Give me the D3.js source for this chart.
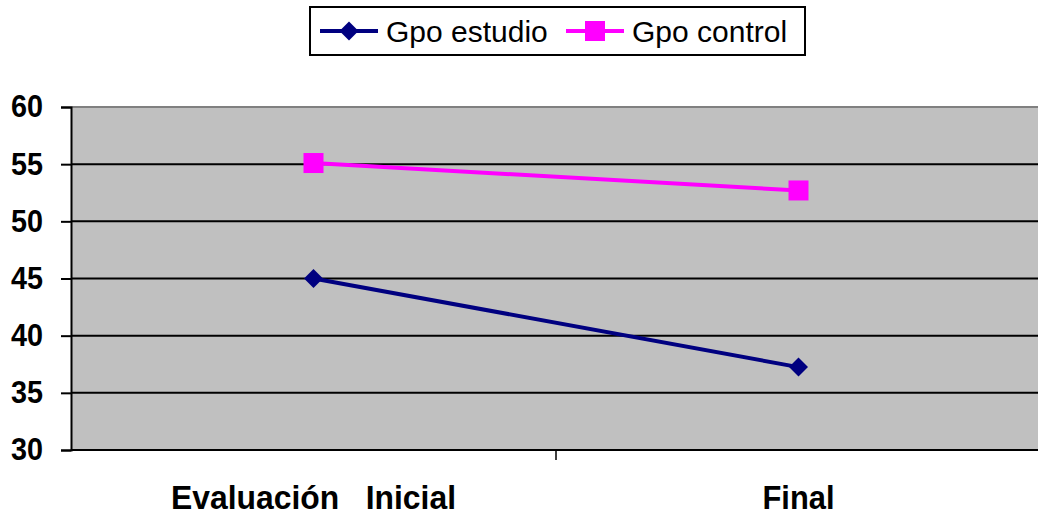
<!DOCTYPE html>
<html>
<head>
<meta charset="utf-8">
<script src="https://cdn.jsdelivr.net/npm/d3@7"></script>
<style>
  html, body { margin: 0; padding: 0; background: #fff; }
  svg { display: block; font-family: "Liberation Sans", Arial, sans-serif; }
</style>
</head>
<body>
<svg id="chart" width="1038" height="516"></svg>
<script>
// Categories, series and tick values
const categories = ["Evaluación   Inicial", "Final"];
const seriesNames = ["Gpo estudio", "Gpo control"];
const estudioValues = [45.0, 37.25];
const controlValues = [55.1, 52.7];
const yTicks = [30, 35, 40, 45, 50, 55, 60];
const seriesColors = ["#000080", "#ff00ff"];

const svg = d3.select("#chart");
const plot = { left: 71, right: 1041, top: 107, bottom: 450 };

const x = d3.scaleBand().domain(categories).range([plot.left, plot.right]);
const y = d3.scaleLinear().domain([30, 60]).range([plot.bottom, plot.top]);

// Plot area background
svg.append("rect")
  .attr("x", plot.left).attr("y", plot.top)
  .attr("width", plot.right - plot.left).attr("height", plot.bottom - plot.top)
  .attr("fill", "#c0c0c0");

// Horizontal gridlines
svg.append("g").selectAll("line")
  .data(yTicks.filter(d => d > 30 && d < 60))
  .join("line")
  .attr("x1", plot.left).attr("x2", plot.right)
  .attr("y1", d => y(d)).attr("y2", d => y(d))
  .attr("stroke", "#000").attr("stroke-width", 2);

// Top edge of plot area
svg.append("line")
  .attr("x1", plot.left).attr("x2", plot.right)
  .attr("y1", y(60)).attr("y2", y(60))
  .attr("stroke", "#808080").attr("stroke-width", 2);

// Y axis
const yAxis = d3.axisLeft(y).tickValues(yTicks).tickSize(10).tickPadding(18);
const gy = svg.append("g").attr("transform", `translate(${plot.left},0)`).call(yAxis);
gy.select(".domain").attr("stroke", "#000").attr("stroke-width", 2);
gy.selectAll(".tick line").attr("stroke", "#000").attr("stroke-width", 2);
gy.selectAll(".tick text")
  .attr("fill", "#000")
  .attr("textLength", 32)
  .attr("lengthAdjust", "spacingAndGlyphs")
  .style("font-size", "31px").style("font-weight", "bold")
  .style("font-family", "'Liberation Sans', Arial, sans-serif");

// X axis line with a divider tick between categories
svg.append("line")
  .attr("x1", plot.left).attr("x2", plot.right)
  .attr("y1", plot.bottom).attr("y2", plot.bottom)
  .attr("stroke", "#000").attr("stroke-width", 2);
svg.append("line")
  .attr("x1", x(categories[1])).attr("x2", x(categories[1]))
  .attr("y1", plot.bottom).attr("y2", plot.bottom + 10)
  .attr("stroke", "#000").attr("stroke-width", 1.5);

// Category labels (condensed bold)
const labelWidths = [285, 72];
svg.append("g").selectAll("text")
  .data(categories)
  .join("text")
  .attr("x", d => x(d) + x.bandwidth() / 2)
  .attr("y", 509)
  .attr("text-anchor", "middle")
  .attr("textLength", (d, i) => labelWidths[i])
  .attr("lengthAdjust", "spacingAndGlyphs")
  .style("font-size", "33px").style("font-weight", "bold")
  .style("white-space", "pre")
  .attr("fill", "#000")
  .text(d => d);

const cx = d => x(d) + x.bandwidth() / 2;
const line = d3.line().x(d => cx(d.cat)).y(d => y(d.v));
const allSeries = [estudioValues, controlValues].map((vals, i) => ({
  name: seriesNames[i],
  color: seriesColors[i],
  points: vals.map((v, j) => ({ cat: categories[j], v }))
}));

function drawMarker(g, i, px, py) {
  if (i === 0) {
    const s = 9.5;
    g.append("path")
      .attr("d", `M${px},${py - s}L${px + s},${py}L${px},${py + s}L${px - s},${py}Z`)
      .attr("fill", seriesColors[0]);
  } else {
    const s = 10;
    g.append("rect")
      .attr("x", px - s).attr("y", py - s)
      .attr("width", 2 * s).attr("height", 2 * s)
      .attr("fill", seriesColors[1]);
  }
}

allSeries.forEach((s, i) => {
  const g = svg.append("g");
  g.append("path").datum(s.points)
    .attr("d", line)
    .attr("fill", "none")
    .attr("stroke", s.color)
    .attr("stroke-width", 4);
  s.points.forEach(p => drawMarker(g, i, cx(p.cat), y(p.v)));
});

// Legend
const legend = svg.append("g");
legend.append("rect")
  .attr("x", 310).attr("y", 7).attr("width", 495).attr("height", 48)
  .attr("fill", "#fff").attr("stroke", "#000").attr("stroke-width", 2);
const legendItems = [
  { lx: 320, tx: 386 },
  { lx: 566, tx: 632 }
];
legendItems.forEach((it, i) => {
  legend.append("line")
    .attr("x1", it.lx).attr("x2", it.lx + 58)
    .attr("y1", 31).attr("y2", 31)
    .attr("stroke", seriesColors[i]).attr("stroke-width", 4);
  drawMarker(legend, i, it.lx + 29, 31);
  legend.append("text")
    .attr("x", it.tx).attr("y", 42)
    .style("font-size", "30px")
    .attr("fill", "#000")
    .text(seriesNames[i]);
});
</script>
</body>
</html>
